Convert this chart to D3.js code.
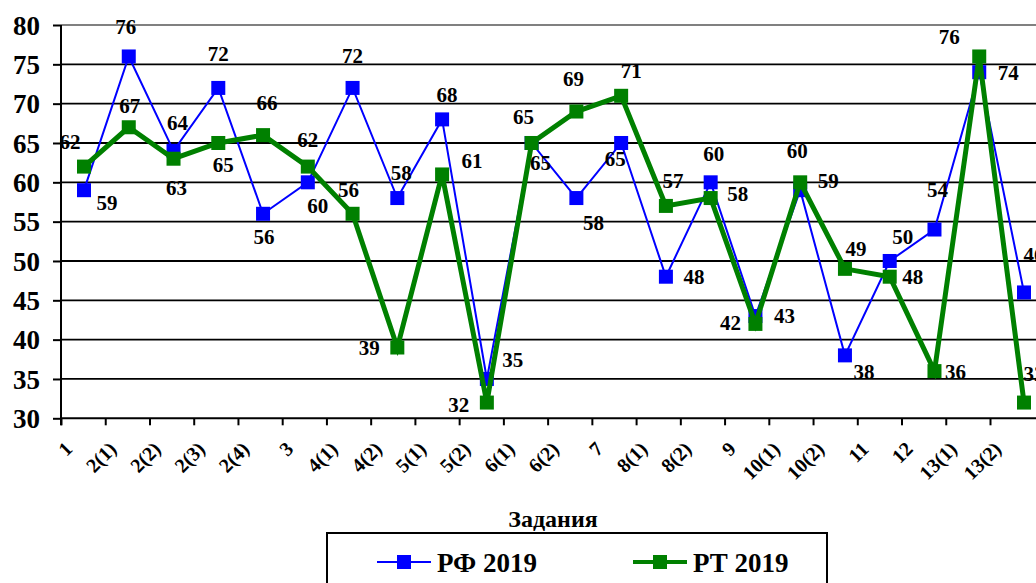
<!DOCTYPE html>
<html>
<head>
<meta charset="utf-8">
<script src="https://cdn.jsdelivr.net/npm/d3@7"></script>
<style>
  body { margin: 0; background: #fff; }
  svg { display: block; }
  text { font-family: "Liberation Serif", "Times New Roman", serif; font-weight: bold; fill: #000; }
</style>
</head>
<body>
<svg id="chart" width="1036" height="583"></svg>
<script>
// Task numbers on the horizontal axis
const tasks = ["1", "2(1)", "2(2)", "2(3)", "2(4)", "3", "4(1)", "4(2)", "5(1)", "5(2)",
               "6(1)", "6(2)", "7", "8(1)", "8(2)", "9", "10(1)", "10(2)", "11", "12", "13(1)", "13(2)"];

// Percentage of correct answers per task
const rf2019 = [59, 76, 64, 72, 56, 60, 72, 58, 68, 35, 65, 58, 65, 48, 60, 43, 59, 38, 50, 54, 74, 46];
const rt2019 = [62, 67, 63, 65, 66, 62, 56, 39, 61, 32, 65, 69, 71, 57, 58, 42, 60, 49, 48, 36, 76, 32];

const yTicks = [30, 35, 40, 45, 50, 55, 60, 65, 70, 75, 80];

const seriesNames = ["РФ 2019", "РТ 2019"];
const axisTitle = "Задания";

// Where each value label sits relative to its marker (dx, dy)
const rfLabelOffsets = [[23, 12], [-3, -30], [4, -28], [0, -34], [1, 23], [10, 23], [0, -32], [4, -25],
  [5, -25], [26, -19], [9, 20], [17, 25], [-6, 16], [28, 0], [3, -29], [29, 0], [28, -10], [19, 16],
  [13, -24], [3, -40], [29, 0], [10, -38]];
const rtLabelOffsets = [[-14, -25], [1, -22], [3, 29], [5, 22], [4, -32], [0, -27], [-4, -24], [-28, 0],
  [30, -14], [-28, 2], [-8, -26], [-3, -33], [10, -25], [7, -25], [27, -4], [-25, -1], [-3, -32], [11, -20],
  [23, 0], [21, 1], [-30, -20], [10, -29]];

const W = 1036, H = 583;
const plotLeft = 61, plotTop = 25, plotBottom = 418.3;

const svg = d3.select("#chart");

const y = d3.scaleLinear().domain([30, 80]).range([plotBottom, plotTop]);
// category tick marks
const xTick = d3.scalePoint().domain(tasks).range([plotLeft, 990]);
// data points
const x = d3.scalePoint().domain(tasks).range([84, 1024]);

// horizontal grid lines
svg.append("g")
  .selectAll("line")
  .data(yTicks.filter(v => v > 30 && v < 80))
  .join("line")
  .attr("x1", plotLeft).attr("x2", W)
  .attr("y1", d => y(d)).attr("y2", d => y(d))
  .attr("stroke", "#000").attr("stroke-width", 1.8);

// top border of the plot area
svg.append("line")
  .attr("x1", plotLeft).attr("x2", W)
  .attr("y1", y(80)).attr("y2", y(80))
  .attr("stroke", "#808080").attr("stroke-width", 2);

// y axis
const yAxis = svg.append("g")
  .attr("transform", `translate(${plotLeft},0)`)
  .call(d3.axisLeft(y).tickValues(yTicks).tickSize(8).tickPadding(13).tickFormat(d3.format("d")));
yAxis.select(".domain").attr("stroke", "#000").attr("stroke-width", 2)
  .attr("d", `M0,${plotTop}V${plotBottom + 7}`);
yAxis.selectAll(".tick line").attr("stroke", "#000").attr("stroke-width", 2);
yAxis.selectAll(".tick text").style("font-size", "27px").attr("dy", "0.34em");

// x axis
const xAxis = svg.append("g")
  .attr("transform", `translate(0,${plotBottom})`)
  .call(d3.axisBottom(xTick).tickSize(7).tickSizeOuter(0));
xAxis.select(".domain").attr("stroke", "#000").attr("stroke-width", 2)
  .attr("d", `M${plotLeft},0H${W}`);
xAxis.selectAll(".tick line").attr("stroke", "#000").attr("stroke-width", 2);
xAxis.selectAll(".tick text")
  .style("font-size", "20px")
  .attr("text-anchor", "end")
  .attr("y", 0).attr("dy", 0)
  .attr("transform", "translate(12,32) rotate(-45)");

// axis title
svg.append("text")
  .attr("x", 553).attr("y", 527)
  .attr("text-anchor", "middle")
  .style("font-size", "24px")
  .text(axisTitle);

const series = [
  { name: seriesNames[0], values: rf2019, offsets: rfLabelOffsets, color: "#0000ff", width: 2 },
  { name: seriesNames[1], values: rt2019, offsets: rtLabelOffsets, color: "#008000", width: 5 }
];
const marker = 14;

const line = d3.line().x((d, i) => x(tasks[i])).y(d => y(d));

series.forEach(s => {
  const g = svg.append("g");
  g.append("path")
    .datum(s.values)
    .attr("d", line)
    .attr("fill", "none")
    .attr("stroke", s.color)
    .attr("stroke-width", s.width)
    .attr("stroke-linejoin", "miter");
  g.selectAll("rect")
    .data(s.values)
    .join("rect")
    .attr("x", (d, i) => x(tasks[i]) - marker / 2)
    .attr("y", d => y(d) - marker / 2)
    .attr("width", marker).attr("height", marker)
    .attr("fill", s.color);
});

// value labels
series.forEach(s => {
  svg.append("g")
    .selectAll("text")
    .data(s.values)
    .join("text")
    .attr("x", (d, i) => x(tasks[i]) + s.offsets[i][0])
    .attr("y", (d, i) => y(d) + s.offsets[i][1])
    .attr("text-anchor", "middle")
    .attr("dy", "0.35em")
    .style("font-size", "21px")
    .text(d => d);
});

// legend
const legend = svg.append("g");
legend.append("rect")
  .attr("x", 327).attr("y", 533)
  .attr("width", 500).attr("height", 70)
  .attr("fill", "#fff").attr("stroke", "#000").attr("stroke-width", 2);

const legendX = [377, 633];
series.forEach((s, i) => {
  const lx = legendX[i], ly = 562;
  legend.append("line")
    .attr("x1", lx).attr("x2", lx + 54)
    .attr("y1", ly).attr("y2", ly)
    .attr("stroke", s.color).attr("stroke-width", s.width === 2 ? 2 : 4);
  legend.append("rect")
    .attr("x", lx + 27 - marker / 2).attr("y", ly - marker / 2)
    .attr("width", marker).attr("height", marker)
    .attr("fill", s.color);
  legend.append("text")
    .attr("x", lx + 60).attr("y", ly + 10)
    .style("font-size", "27px")
    .text(s.name);
});
</script>
</body>
</html>
